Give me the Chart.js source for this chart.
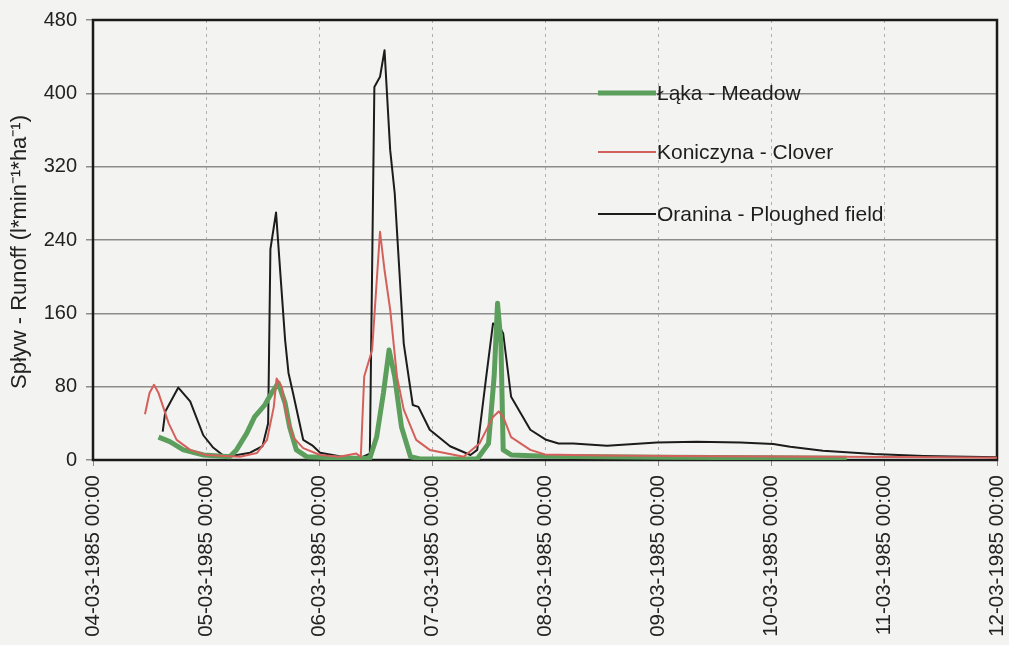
<!DOCTYPE html>
<html>
<head>
<meta charset="utf-8">
<script src="https://cdn.jsdelivr.net/npm/chart.js@4.4.1/dist/chart.umd.min.js"></script>
<style>
  html, body { margin: 0; padding: 0; background: #f3f3f1; }
  #wrap { width: 1009px; height: 645px; }
</style>
</head>
<body>
<div id="wrap"><canvas id="runoffChart" width="1009" height="645"></canvas></div>
<script>
// time in days from 04-03-1985 00:00, runoff in l*min-1*ha-1
const tickLabels = ['04-03-1985 00:00', '05-03-1985 00:00', '06-03-1985 00:00', '07-03-1985 00:00',
    '08-03-1985 00:00', '09-03-1985 00:00', '10-03-1985 00:00', '11-03-1985 00:00', '12-03-1985 00:00'];

const seriesNames = ['Łąka - Meadow', 'Koniczyna - Clover', 'Oranina - Ploughed field'];

const meadowTime = [0.58, 0.68, 0.80, 0.98, 1.21, 1.27, 1.36, 1.43, 1.52, 1.58, 1.64, 1.70, 1.74, 1.80, 1.89,
    2.20, 2.45, 2.51, 2.57, 2.62, 2.67, 2.73, 2.81, 2.90, 3.40, 3.50, 3.55, 3.58, 3.61, 3.63, 3.70,
    4.00, 5.00, 6.00, 6.67];
const meadowRunoff = [25, 20, 11, 5.5, 3.6, 11, 29, 47, 60, 73, 84, 62, 36, 11, 3.6,
    2, 2, 25, 73, 120, 91, 36, 3.6, 1, 1, 18, 91, 171, 128, 11, 5.5,
    4, 3, 2.5, 2];

const cloverTime = [0.46, 0.50, 0.54, 0.58, 0.67, 0.74, 0.86, 1.00, 1.30, 1.45, 1.54, 1.60, 1.625, 1.67, 1.71,
    1.77, 1.86, 2.01, 2.18, 2.33, 2.37, 2.40, 2.47, 2.54, 2.58, 2.63, 2.69, 2.75, 2.86, 2.98,
    3.28, 3.42, 3.54, 3.59, 3.63, 3.70, 3.87, 4.00, 4.50, 5.50, 6.60, 7.50, 8.00];
const cloverRunoff = [50, 73, 82, 73, 40, 22, 11, 5.5, 3.6, 7.6, 22, 58, 89, 80, 51,
    25, 13, 5.5, 3.6, 7, 3.6, 91, 120, 249, 207, 164, 91, 55, 22, 11,
    3.6, 18, 47, 53, 47, 25, 11, 6, 5, 4, 3.6, 3, 2.5];

const ploughTime = [0.617, 0.64, 0.755, 0.86, 0.976, 1.06, 1.153, 1.25, 1.39, 1.50, 1.55, 1.57, 1.62, 1.66, 1.70,
    1.73, 1.77, 1.86, 1.94, 2.01, 2.18, 2.36, 2.45, 2.49, 2.54, 2.58, 2.63, 2.67, 2.75, 2.83, 2.88,
    2.98, 3.16, 3.34, 3.40, 3.48, 3.54, 3.60, 3.63, 3.70, 3.87, 4.01, 4.12, 4.25, 4.55, 4.99, 5.34,
    5.73, 6.02, 6.17, 6.46, 6.91, 7.35, 8.00];
const ploughRunoff = [31, 53, 79, 64, 27, 14, 5, 5, 8, 15, 40, 230, 270, 200, 131,
    95, 73, 22, 16, 8, 4, 2, 7, 407, 418, 447, 338, 291, 127, 60, 58,
    33, 15, 5.5, 11, 91, 149, 145, 138, 69, 33, 22, 18, 18, 15.6, 19, 20,
    19, 17.5, 14.5, 10, 6.5, 4.4, 3];

const toPoints = (xs, ys) => xs.map((x, i) => ({ x: x, y: ys[i] }));

// plot frame drawn around the chart area
const frame = {
    id: 'frame',
    beforeDatasetsDraw(chart) {
        const { ctx, chartArea: a } = chart;
        ctx.save();
        ctx.strokeStyle = '#1a1a1a';
        ctx.lineWidth = 2.5;
        ctx.strokeRect(a.left, a.top, a.right - a.left, a.bottom - a.top);
        ctx.restore();
    }
};

// legend placed inside the plot, one entry per row
const innerLegend = {
    id: 'innerLegend',
    afterDraw(chart) {
        const ctx = chart.ctx;
        const rows = [93, 152, 214];
        ctx.save();
        ctx.font = '21px "Liberation Sans", Arial, sans-serif';
        ctx.textBaseline = 'middle';
        ctx.fillStyle = '#1e1e1e';
        chart.data.datasets.forEach((ds, i) => {
            const y = rows[i];
            ctx.strokeStyle = ds.borderColor;
            ctx.lineWidth = ds.borderWidth;
            ctx.beginPath();
            ctx.moveTo(598, y);
            ctx.lineTo(656, y);
            ctx.stroke();
            ctx.fillText(ds.label, 657, y + 1);
        });
        ctx.restore();
    }
};

// y title sits a little below the middle of the axis
const yTitleDrop = 12;

const yTitle = {
    id: 'yTitle',
    afterDraw(chart) {
        const { ctx, chartArea: a } = chart;
        ctx.save();
        ctx.font = '22px "Liberation Sans", Arial, sans-serif';
        ctx.fillStyle = '#222';
        ctx.textAlign = 'center';
        ctx.textBaseline = 'middle';
        ctx.translate(20, (a.top + a.bottom) / 2 + yTitleDrop);
        ctx.rotate(-Math.PI / 2);
        ctx.fillText('Spływ - Runoff (l*min⁻¹*ha⁻¹)', 0, 0);
        ctx.restore();
    }
};

new Chart(document.getElementById('runoffChart'), {
    type: 'line',
    data: {
        datasets: [
            { label: seriesNames[0], data: toPoints(meadowTime, meadowRunoff), borderColor: '#5c9e5c', borderWidth: 5, order: 1 },
            { label: seriesNames[1], data: toPoints(cloverTime, cloverRunoff), borderColor: '#d4605c', borderWidth: 2, order: 0 },
            { label: seriesNames[2], data: toPoints(ploughTime, ploughRunoff), borderColor: '#1c1c1c', borderWidth: 2, order: 2 }
        ]
    },
    options: {
        responsive: false,
        animation: false,
        elements: { point: { radius: 0 }, line: { tension: 0, borderJoinStyle: 'round' } },
        layout: { padding: { top: 20, right: 12, left: 0, bottom: 0 } },
        plugins: { legend: { display: false }, tooltip: { enabled: false } },
        scales: {
            x: {
                type: 'linear',
                min: 0,
                max: 8,
                afterFit(scale) {
                    scale.height = 185;
                    scale.paddingLeft = 0;
                    scale.paddingRight = 0;
                },
                grid: { color: '#b0b0b0', lineWidth: 1, tickLength: 6, tickColor: '#888' },
                border: { display: false, dash: [3, 4] },
                ticks: {
                    stepSize: 1,
                    minRotation: 90,
                    maxRotation: 90,
                    padding: 9,
                    color: '#222',
                    font: { family: '"Liberation Sans", Arial, sans-serif', size: 20.5 },
                    callback: (v) => tickLabels[v]
                }
            },
            y: {
                min: 0,
                max: 480,
                afterFit(scale) {
                    scale.width = 93;
                    scale.paddingTop = 0;
                    scale.paddingBottom = 0;
                },
                grid: { color: '#8c8c8c', lineWidth: 1.5, tickLength: 7 },
                border: { display: false },
                ticks: {
                    stepSize: 80,
                    padding: 9,
                    color: '#222',
                    font: { family: '"Liberation Sans", Arial, sans-serif', size: 20 }
                }
            }
        }
    },
    plugins: [frame, innerLegend, yTitle]
});
</script>
</body>
</html>
